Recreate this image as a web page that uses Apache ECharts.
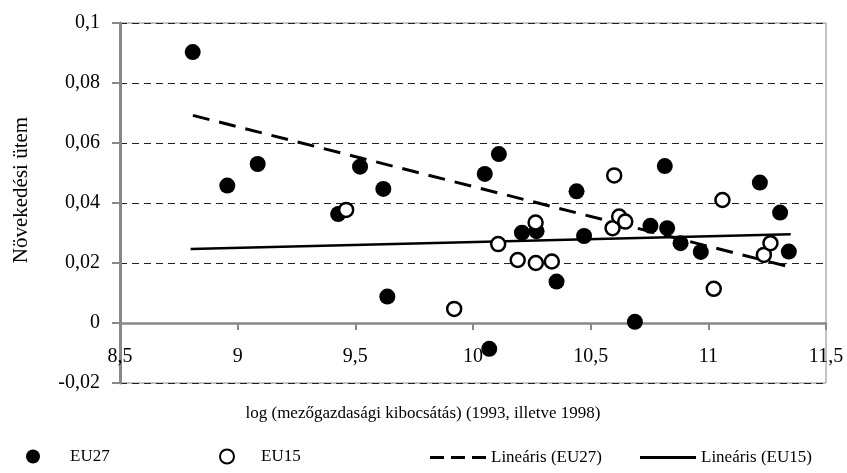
<!DOCTYPE html>
<html>
<head>
<meta charset="utf-8">
<script src="https://cdn.jsdelivr.net/npm/echarts@6/dist/echarts.min.js"></script>
<style>html,body{margin:0;padding:0;background:#fff}#c{width:847px;height:473px}</style>
</head>
<body>
<div id="c"></div>
<script>
const eu27X = [8.809, 8.956, 9.085, 9.427, 9.52, 9.619, 9.636, 10.05, 10.069, 10.11, 10.208, 10.27, 10.355, 10.44, 10.472, 10.688, 10.754, 10.815, 10.825, 10.882, 10.968, 11.219, 11.305, 11.342];
const eu27Y = [0.0903, 0.0458, 0.053, 0.0363, 0.0521, 0.0447, 0.0088, 0.0497, -0.0086, 0.0563, 0.0301, 0.0306, 0.0138, 0.0439, 0.029, 0.0004, 0.0324, 0.0523, 0.0316, 0.0266, 0.0237, 0.0468, 0.0368, 0.0238];
const eu15X = [9.461, 9.92, 10.107, 10.19, 10.266, 10.267, 10.335, 10.593, 10.6, 10.621, 10.647, 11.023, 11.06, 11.236, 11.264];
const eu15Y = [0.0377, 0.0047, 0.0263, 0.021, 0.0335, 0.02, 0.0205, 0.0316, 0.0492, 0.0355, 0.0338, 0.0114, 0.041, 0.0227, 0.0266];
const trend27X = [8.81, 11.33];
const trend27Y = [0.0692, 0.019];
const trend15X = [8.80, 11.35];
const trend15Y = [0.0247, 0.0296];
const seriesNames = ['EU27', 'EU15', 'Lineáris (EU27)', 'Lineáris (EU15)'];
const xTitle = 'log (mezőgazdasági kibocsátás) (1993, illetve 1998)';
const yTitle = 'Növekedési ütem';

const zip = (xs, ys) => xs.map((x, i) => [x, ys[i]]);
const fmt = v => String(Number(v.toFixed(4))).replace('.', ',');
const FONT = "'Liberation Serif', 'Times New Roman', serif";

const chart = echarts.init(document.getElementById('c'), null, {renderer: 'canvas'});
const legendBase = {orient: 'horizontal', top: 443, itemHeight: 14, selectedMode: false,
  textStyle: {fontFamily: FONT, fontSize: 17, color: '#000'}};
chart.setOption({
  animation: false,
  backgroundColor: '#fff',
  grid: {left: 120, right: 21, top: 23, bottom: 90, show: true, borderColor: '#888', borderWidth: 1,
    containLabel: false, outerBoundsMode: 'none'},
  xAxis: {
    type: 'value', min: 8.5, max: 11.5, interval: 0.5, offset: -60,
    name: xTitle, nameLocation: 'middle', nameGap: 82,
    nameTextStyle: {fontFamily: FONT, fontSize: 17, color: '#000', padding: [0, 100, 0, 0]},
    axisLine: {onZero: false, lineStyle: {color: '#888', width: 2.5}},
    axisTick: {show: true, length: 7, lineStyle: {color: '#888', width: 2}},
    axisLabel: {margin: 24, fontFamily: FONT, fontSize: 20, color: '#000', formatter: fmt},
    splitLine: {show: false}
  },
  yAxis: {
    type: 'value', min: -0.02, max: 0.1, interval: 0.02,
    name: yTitle, nameLocation: 'middle', nameGap: 88,
    nameTextStyle: {fontFamily: FONT, fontSize: 21, color: '#000', padding: [0, 0, 0, 26]},
    axisLine: {show: true, onZero: false, lineStyle: {color: '#888', width: 3}},
    axisTick: {show: true, length: 8, lineStyle: {color: '#888', width: 2}},
    axisLabel: {margin: 20, fontFamily: FONT, fontSize: 20, color: '#000', formatter: fmt},
    splitLine: {show: true, lineStyle: {color: '#222', width: 1, type: [7, 5]}}
  },
  legend: [
    Object.assign({}, legendBase, {left: 21, itemWidth: 14, data: [seriesNames[0]],
      textStyle: Object.assign({}, legendBase.textStyle, {padding: [0, 0, 0, 25]})}),
    Object.assign({}, legendBase, {left: 214, itemWidth: 14, data: [seriesNames[1]],
      textStyle: Object.assign({}, legendBase.textStyle, {padding: [0, 0, 0, 22]})}),
    Object.assign({}, legendBase, {left: 425, top: 444, itemWidth: 56, itemHeight: 3,
      data: [{name: seriesNames[2], icon: 'path://M0,0h14v3h-14z M21,0h14v3h-14z M42,0h14v3h-14z'}]}),
    Object.assign({}, legendBase, {left: 635, top: 444, itemWidth: 56, itemHeight: 3,
      data: [{name: seriesNames[3], icon: 'path://M0,0h56v3h-56z'}]})
  ],
  series: [
    {name: seriesNames[0], type: 'scatter', data: zip(eu27X, eu27Y), symbol: 'circle', symbolSize: 16,
      itemStyle: {color: '#000', opacity: 1}, z: 5},
    {name: seriesNames[1], type: 'scatter', data: zip(eu15X, eu15Y), symbol: 'circle', symbolSize: 14,
      itemStyle: {color: '#fff', borderColor: '#000', borderWidth: 2.5, opacity: 1}, z: 6},
    {name: seriesNames[2], type: 'line', data: zip(trend27X, trend27Y), symbol: 'none', showSymbol: false,
      lineStyle: {color: '#000', width: 3, type: [17, 10]}, itemStyle: {color: '#000'}, z: 4},
    {name: seriesNames[3], type: 'line', data: zip(trend15X, trend15Y), symbol: 'none', showSymbol: false,
      lineStyle: {color: '#000', width: 2.5, type: 'solid'}, itemStyle: {color: '#000'}, z: 4}
  ]
});
</script>
</body>
</html>
